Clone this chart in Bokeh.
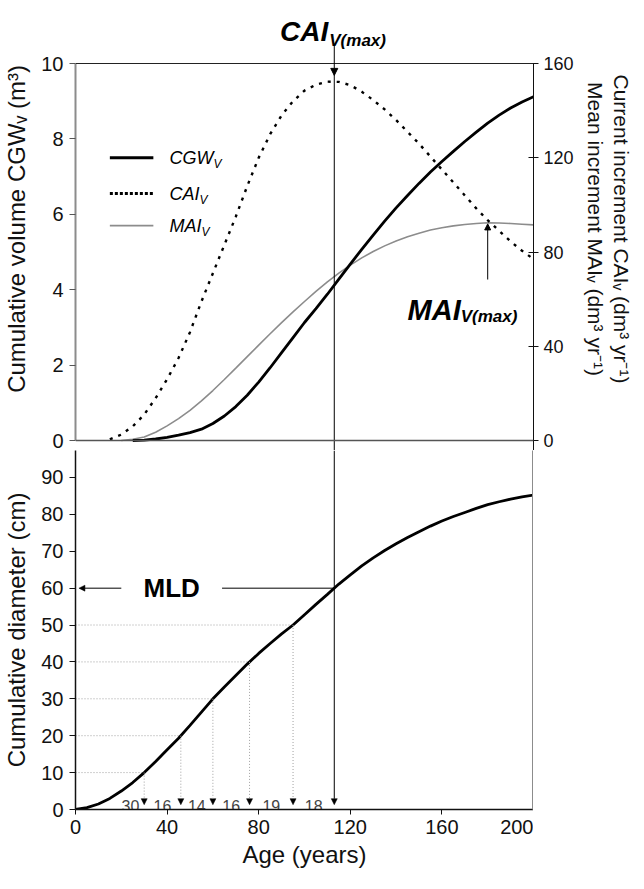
import numpy as np
from bokeh.plotting import figure
from bokeh.layouts import column
from bokeh.models import Range1d, LinearAxis, FixedTicker, Span, Arrow, NormalHead, Label
from bokeh.core.properties import value
from bokeh.embed import file_html
from bokeh.resources import INLINE

NAN = float("nan")

# ---------------- data ----------------
ages = [0, 5, 10, 15, 20, 25, 30, 35, 40, 45, 50, 55, 60, 65, 70, 75, 80, 85, 90, 95,
        100, 105, 110, 115, 120, 125, 130, 135, 140, 145, 150, 155, 160, 165, 170, 175,
        180, 185, 190, 195, 200]

cgw_m3 = [NAN, NAN, NAN, NAN, NAN, 0.0, 0.01, 0.04, 0.08, 0.14, 0.21, 0.30, 0.45, 0.65,
          0.90, 1.20, 1.55, 1.93, 2.33, 2.73, 3.13, 3.50, 3.88, 4.28, 4.68, 5.07, 5.45,
          5.82, 6.17, 6.50, 6.82, 7.12, 7.40, 7.67, 7.93, 8.18, 8.42, 8.63, 8.82, 8.98, 9.12]

cai_dm3 = [NAN, NAN, NAN, 0.5, 2.5, 6, 11, 18, 26, 35, 46, 59, 71, 83, 95, 108, 120, 130,
           138, 144, 148.5, 151, 152.3, 152.2, 150.8, 148, 144.5, 140.5, 136, 131, 126,
           120.5, 115, 109.5, 104, 98.5, 93.5, 89, 84.5, 80.5, 77]

mai_dm3 = [NAN, NAN, NAN, NAN, 0, 0.5, 1.5, 3.5, 6.2, 9.3, 12.8, 16.8, 21.2, 25.9, 30.7,
           35.6, 40.5, 45.3, 50, 54.6, 59, 63.3, 67.3, 71, 74.4, 77.5, 80.2, 82.6, 84.7,
           86.5, 88, 89.3, 90.3, 91.1, 91.7, 92.1, 92.4, 92.3, 92.1, 91.8, 91.5]

diam_cm = [0, 0.5, 1.5, 3.0, 5.0, 7.3, 10.0, 13.0, 16.2, 19.3, 22.8, 26.4, 30.0, 33.2,
           36.3, 39.4, 42.3, 45.0, 47.6, 50.0, 52.8, 55.6, 58.3, 61.1, 63.6, 66.0, 68.2,
           70.2, 72.0, 73.7, 75.3, 76.8, 78.2, 79.4, 80.5, 81.6, 82.6, 83.4, 84.1, 84.7, 85.2]

diam_levels = [10, 20, 30, 40, 50, 60]          # cm
interval_years = [30, 16, 14, 16, 19, 18]       # years needed for each 10 cm

vol_ticks = [0, 2, 4, 6, 8, 10]
inc_ticks = [0, 40, 80, 120, 160]
diam_ticks = [0, 10, 20, 30, 40, 50, 60, 70, 80, 90]
age_ticks = [0, 40, 80, 120, 160, 200]

legend_names = ["CGW", "CAI", "MAI"]

# ---------------- derived values ----------------
FONT = "Liberation Sans"
VOL_MAX, INC_MAX = 10, 160
K = INC_MAX / VOL_MAX                      # right-axis units per left-axis unit
level_ages = list(np.cumsum(interval_years))
age_cai = level_ages[-1]                   # age of CAI max (= age reaching MLD)
cai_peak = float(np.interp(age_cai, ages, np.nan_to_num(cai_dm3)))
mai_arr = np.array(mai_dm3)
i_mai = int(np.nanargmax(mai_arr))
age_mai, mai_peak = ages[i_mai], float(mai_arr[i_mai])
mld = float(np.interp(age_cai, ages, diam_cm))

LEFT_BORDER = 75

# ---------------- top panel ----------------
PX_VOL = 37.7
y0_top = -10 / PX_VOL
y1_top = VOL_MAX + 56 / PX_VOL
top = figure(frame_width=458, frame_height=443, x_range=Range1d(0, 200),
             y_range=Range1d(y0_top, y1_top), x_axis_location=None,
             output_backend="svg", toolbar_location=None,
             min_border_left=LEFT_BORDER, min_border_top=7, min_border_bottom=0,
             min_border_right=0)
top.extra_y_ranges = {"inc": Range1d(y0_top * K, y1_top * K)}
top.outline_line_color = None
top.grid.visible = False

ya = top.yaxis[0]
ya.ticker = FixedTicker(ticks=vol_ticks)
ya.bounds = (0, VOL_MAX)
ya.axis_line_color = "#8c8c8c"
ya.axis_line_width = 2
ya.major_tick_line_color = "#555555"
ya.major_tick_out = 6
ya.major_tick_in = 0
ya.minor_tick_line_color = None
ya.major_label_text_font = FONT
ya.major_label_text_font_size = "20px"
ya.major_label_text_color = "#111111"
ya.major_label_standoff = 6
ya.axis_label = "Cumulative volume CGWᵥ (m³)"
ya.axis_label_text_font = FONT
ya.axis_label_text_font_size = "24px"
ya.axis_label_text_font_style = "normal"
ya.axis_label_text_color = "#111111"
ya.axis_label_standoff = 8

ra = LinearAxis(y_range_name="inc", ticker=FixedTicker(ticks=inc_ticks),
                bounds=(y0_top * K, INC_MAX))
ra.axis_line_color = "#111111"
ra.major_tick_line_color = "#111111"
ra.major_tick_in = 5
ra.major_tick_out = 5
ra.minor_tick_line_color = None
ra.major_label_text_font = FONT
ra.major_label_text_font_size = "18px"
ra.major_label_text_color = "#111111"
ra.major_label_standoff = 5
ra.axis_label = "Mean increment MAIᵥ (dm³ yr⁻¹)"
ra.axis_label_text_font = FONT
ra.axis_label_text_font_size = "21px"
ra.axis_label_text_font_style = "normal"
ra.axis_label_text_color = "#111111"
ra.axis_label_standoff = 7
top.add_layout(ra, "right")

ra2 = LinearAxis(y_range_name="inc", ticker=FixedTicker(ticks=[]), bounds=(0, INC_MAX))
ra2.axis_line_color = None
ra2.major_tick_line_color = None
ra2.minor_tick_line_color = None
ra2.major_label_text_font_size = "0px"
ra2.axis_label = "Current increment CAIᵥ (dm³ yr⁻¹)"
ra2.axis_label_text_font = FONT
ra2.axis_label_text_font_size = "21px"
ra2.axis_label_text_font_style = "normal"
ra2.axis_label_text_color = "#111111"
ra2.axis_label_standoff = 0
top.add_layout(ra2, "right")

# frame lines: bottom (age axis of the upper panel) and top border
top.add_layout(Span(location=0, dimension="width", line_color="#555555", line_width=1.5))
top.add_layout(Span(location=VOL_MAX, dimension="width", line_color="#222222", line_width=1))

top.line(ages, mai_dm3, y_range_name="inc", line_color="#8c8c8c", line_width=1.6)
top.line(ages, cai_dm3, y_range_name="inc", line_color="black", line_width=2.4,
         line_dash="3 6")
top.line(ages, cgw_m3, line_color="black", line_width=2.8)

# CAI max marker
top.add_layout(Arrow(x_start=age_cai, y_start=10.52, x_end=age_cai, y_end=cai_peak / K + 0.17,
                     line_color="black", line_width=1,
                     end=NormalHead(size=7, fill_color="black", line_color="black")))
top.segment(x0=[age_cai], y0=[cai_peak / K + 0.2], x1=[age_cai], y1=[y0_top],
            line_color="black", line_width=1)
top.add_layout(Label(x=age_cai, y=10.85, x_offset=-6, text="CAI", text_align="right",
                     text_baseline="alphabetic", text_font=FONT, text_font_size="28px",
                     text_font_style="bold italic", text_color="black"))
top.add_layout(Label(x=age_cai, y=10.62, x_offset=-5, text="V(max)", text_align="left",
                     text_baseline="alphabetic", text_font=FONT, text_font_size="17px",
                     text_font_style="bold italic", text_color="black"))

# MAI max marker
top.add_layout(Arrow(x_start=age_mai, y_start=4.27, x_end=age_mai, y_end=mai_peak / K - 0.03,
                     line_color="black", line_width=1,
                     end=NormalHead(size=6, fill_color="black", line_color="black")))
top.add_layout(Label(x=age_mai, y=3.47, x_offset=-27, text="MAI", text_align="right",
                     text_baseline="alphabetic", text_font=FONT, text_font_size="29px",
                     text_font_style="bold italic", text_color="black"))
top.add_layout(Label(x=age_mai, y=3.30, x_offset=-27, text="V(max)", text_align="left",
                     text_baseline="alphabetic", text_font=FONT, text_font_size="17px",
                     text_font_style="bold italic", text_color="black"))

# legend (drawn by hand so that the subscripts can be shown)
LEG_X = [15, 34]
LEG_Y = [7.5, 6.55, 5.7]
LEG_TX = 41
SUB_DX = [44, 30, 32]
top.line(LEG_X, [LEG_Y[0]] * 2, line_color="black", line_width=2.8)
top.line(LEG_X, [LEG_Y[1]] * 2, line_color="black", line_width=3, line_dash="3 2")
top.line(LEG_X, [LEG_Y[2]] * 2, line_color="#8c8c8c", line_width=1.6)
for name, yy, dx in zip(legend_names, LEG_Y, SUB_DX):
    top.text(x=[LEG_TX], y=[yy], text=[name], text_font=value(FONT),
             text_font_size="18px", text_font_style="italic", text_baseline="middle",
             text_color="black")
    top.text(x=[LEG_TX], y=[yy], text=["V"], x_offset=dx, y_offset=6,
             text_font=value(FONT), text_font_size="12px", text_font_style="italic",
             text_baseline="middle", text_color="black")

# ---------------- bottom panel ----------------
PX_D = 3.69
bot = figure(frame_width=458, frame_height=359, x_range=Range1d(0, 200),
             y_range=Range1d(0, 359 / PX_D),
             output_backend="svg", toolbar_location=None,
             min_border_left=LEFT_BORDER, min_border_top=0, min_border_right=0)
bot.outline_line_color = None
bot.grid.visible = False

bx = bot.xaxis[0]
bx.ticker = FixedTicker(ticks=age_ticks)
bx.axis_line_color = "#111111"
bx.axis_line_width = 1.5
bx.major_tick_line_color = "#111111"
bx.major_tick_out = 5
bx.major_tick_in = 0
bx.minor_tick_line_color = None
bx.major_label_text_font = FONT
bx.major_label_text_font_size = "20px"
bx.major_label_text_color = "#111111"
bx.major_label_standoff = 5
bx.axis_label = "Age (years)"
bx.axis_label_text_font = FONT
bx.axis_label_text_font_size = "24px"
bx.axis_label_text_font_style = "normal"
bx.axis_label_text_color = "#111111"
bx.axis_label_standoff = 4

by = bot.yaxis[0]
by.ticker = FixedTicker(ticks=diam_ticks)
by.axis_line_color = "#111111"
by.axis_line_width = 1.5
by.major_tick_line_color = "#111111"
by.major_tick_out = 6
by.major_tick_in = 0
by.minor_tick_line_color = None
by.major_label_text_font = FONT
by.major_label_text_font_size = "20px"
by.major_label_text_color = "#111111"
by.major_label_standoff = 6
by.axis_label = "Cumulative diameter (cm)"
by.axis_label_text_font = FONT
by.axis_label_text_font_size = "24px"
by.axis_label_text_font_style = "normal"
by.axis_label_text_color = "#111111"
by.axis_label_standoff = 8

br = LinearAxis(ticker=FixedTicker(ticks=[]))
br.axis_line_color = "#8c8c8c"
br.axis_line_width = 3
br.major_tick_line_color = None
br.minor_tick_line_color = None
br.major_label_text_font_size = "0px"
bot.add_layout(br, "right")

# dotted guides for every 10 cm
for lvl, a in zip(diam_levels[:-1], level_ages[:-1]):
    bot.segment(x0=[0], y0=[lvl], x1=[a], y1=[lvl], line_color="#a0a0a0",
                line_width=1, line_dash="1 2")
    bot.add_layout(Arrow(x_start=a, y_start=lvl, x_end=a, y_end=1.3,
                         line_color="#a0a0a0", line_width=1, line_dash="1 2",
                         end=NormalHead(size=6, fill_color="black", line_color="black",
                                        line_width=0.5)))

# CAI max vertical line down to the age axis
bot.add_layout(Arrow(x_start=age_cai, y_start=359 / PX_D, x_end=age_cai, y_end=1.3,
                     line_color="black", line_width=1,
                     end=NormalHead(size=6, fill_color="black", line_color="black",
                                    line_width=0.5)))

# interval labels (years per 10 cm)
prev = [0] + level_ages[:-1]
lab_x = [(p + a) / 2 for p, a in zip(prev, level_ages)]
lab_x[0] = level_ages[0] - 6
bot.text(x=lab_x, y=[0.9] * len(lab_x), text=[str(v) for v in interval_years],
         text_font=value(FONT), text_font_size="16px", text_color="#444444",
         text_align="center", text_baseline="alphabetic")

# MLD
bot.add_layout(Arrow(x_start=20, y_start=mld, x_end=1.5, y_end=mld, line_color="black",
                     line_width=1,
                     end=NormalHead(size=6, fill_color="black", line_color="black",
                                    line_width=0.5)))
bot.segment(x0=[64], y0=[mld], x1=[age_cai], y1=[mld], line_color="black", line_width=1)
bot.text(x=[42], y=[mld], text=["MLD"], text_font=value(FONT), text_font_size="26px",
         text_font_style="bold", text_align="center", text_baseline="middle",
         text_color="black")

bot.line(ages, diam_cm, line_color="black", line_width=2.8)

layout = column(top, bot, spacing=0)
open("out.html", "w").write(file_html(layout, INLINE))
